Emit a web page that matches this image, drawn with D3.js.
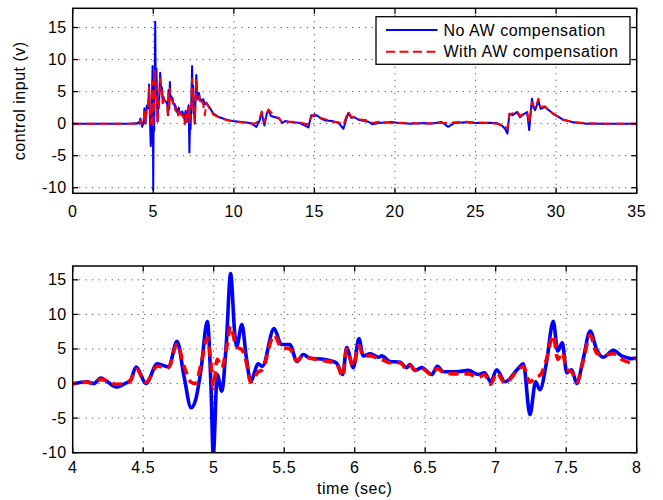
<!DOCTYPE html>
<html>
<head>
<meta charset="utf-8">
<script src="https://cdn.jsdelivr.net/npm/d3@7/dist/d3.min.js"></script>
<style>
  html, body { margin: 0; padding: 0; background: #fff; }
  svg { display: block; }
  text { font-family: "Liberation Sans", Arial, Helvetica, sans-serif; fill: #000; letter-spacing: 0.5px; }
</style>
</head>
<body>
<svg id="chart" width="663" height="500"></svg>
<script>
// ---------------- DATA ----------------
const time = [0, 2, 3.5, 3.9, 4.0, 4.05, 4.1, 4.15, 4.2, 4.24, 4.31, 4.37, 4.41, 4.45, 4.52, 4.6, 4.68, 4.74, 4.79, 4.84, 4.87, 4.91, 4.955, 4.98, 4.997, 5.025, 5.057, 5.09, 5.12, 5.15, 5.163, 5.2, 5.23, 5.262, 5.316, 5.345, 5.428, 5.48, 5.54, 5.59, 5.635, 5.68, 5.78, 5.87, 5.915, 5.943, 5.99, 6.03, 6.06, 6.11, 6.17, 6.19, 6.25, 6.32, 6.37, 6.39, 6.43, 6.475, 6.546, 6.586, 6.63, 6.72, 6.806, 6.877, 6.92, 6.965, 7.007, 7.066, 7.16, 7.196, 7.243, 7.283, 7.314, 7.36, 7.408, 7.44, 7.472, 7.504, 7.539, 7.575, 7.62, 7.67, 7.716, 7.763, 7.834, 7.894, 7.94, 7.965, 8.0, 8.1, 8.2, 8.3, 8.5, 8.73, 9.1, 9.56, 9.9, 10.5, 11.1, 11.4, 11.6, 11.73, 11.85, 11.9, 12.04, 12.14, 12.3, 12.56, 12.8, 13.0, 13.18, 13.6, 14.0, 14.42, 14.63, 14.8, 15.0, 15.15, 15.4, 15.66, 16.1, 16.5, 16.8, 16.95, 17.1, 17.3, 17.5, 17.73, 18.35, 18.6, 19.0, 19.8, 20.2, 21.0, 21.9, 22.2, 22.9, 23.3, 23.7, 24.4, 25.0, 25.7, 26.3, 26.63, 26.83, 26.98, 27.1, 27.3, 27.56, 27.76, 28.0, 28.2, 28.33, 28.5, 28.6, 28.7, 28.9, 29.04, 29.3, 29.83, 30.45, 31.07, 31.9, 33, 35];

const noAW = [0, 0, 0, 0.05, 0, 0.15, 0.25, 0, 0.8, 0.35, -0.5, 0, 0.5, 2.4, 0, 2.85, 2.4, 6.1, 1.0, -3.5, -2.5, 2.0, 9.0, 0, -10.3, 1.3, -1.1, 6, 15.9, 7, 5.4, 8.55, 4, 0.35, 2.85, 2.5, 7.95, 5.65, 5.65, 3.2, 4.2, 3.7, 3.5, 3.0, 1.3, 5.2, 2.3, 6.5, 4.0, 4.3, 3.8, 4.0, 3.2, 3.1, 2.3, 2.75, 1.9, 2.3, 1.3, 2.5, 1.7, 1.7, 1.9, 1.3, 1.55, 0.25, 2.0, 0.25, 2.2, 2.85, -4.5, 0.25, -0.9, 3.0, 9.0, 4.7, 5.9, 1.55, 2.0, 0, 3.5, 7.6, 4.9, 3.8, 4.8, 4.0, 3.7, 3.6, 3.7, 3.8, 3.0, 3.2, 2.5, 1.55, 1.0, 0.6, 0.4, 0.25, 0.05, -0.5, 0.5, 1.8, 0.2, -0.3, 1.55, 2.1, 1.2, 1.0, 0.8, 0.1, 0.4, 0.2, 0.15, -0.3, -0.6, 1.3, 1.2, 1.3, 0.8, 0.5, 0.4, 0.1, -0.8, 0.5, 1.65, 0.9, 1.0, 0.6, 0.3, -0.1, 0.1, 0.25, 0.1, 0.0, 0.1, 0, 0.25, -0.5, 0.1, 0.2, 0.1, 0.15, 0.1, -0.3, -0.8, -1.55, 1.55, 1.3, 1.8, 1.0, 1.5, 1.8, -1.0, 3.9, 2.5, 2.1, 3.6, 2.3, 2.6, 1.55, 0.6, 0.2, 0, 0, 0];

const withAW = [0, 0, 0, 0, 0, 0.1, 0.2, 0.05, 0.6, 0.4, -0.1, -0.05, 0.4, 2.1, 0.2, 2.5, 2.3, 5.7, 2.5, 0.2, 0, 2.8, 6.6, 3.0, -0.6, 3.5, 2.3, 5, 8.3, 6.0, 5.3, 4.9, 3.2, 0.2, 1.7, 2.0, 7.0, 5.2, 5.0, 3.3, 4.0, 3.7, 3.3, 2.9, 1.0, 5.0, 2.5, 5.5, 4.0, 4.0, 3.6, 3.5, 3.0, 3.0, 2.1, 2.6, 1.9, 2.2, 1.3, 2.2, 1.6, 1.4, 1.4, 0.9, 1.3, -0.1, 1.5, 0.1, 2.0, 2.5, 0.2, 1.0, 1.2, 3.5, 7.0, 3.5, 4.5, 2.0, 1.7, 0.2, 3.2, 7.0, 4.4, 4.1, 4.3, 3.5, 3.1, 3.0, 3.5, 3.0, 1.3, 3.3, 2.3, 1.4, 0.9, 0.55, 0.35, 0.2, 0, 0.1, 0.8, 1.9, 1.0, 0.2, 1.5, 2.2, 1.8, 1.1, 0.9, 0.2, 0.3, 0.3, 0.2, 0.0, -0.1, 1.0, 1.5, 1.2, 0.9, 0.7, 0.3, 0.2, -0.2, 0.9, 1.9, 1.0, 1.1, 0.7, 0.5, 0.1, 0.3, 0.1, 0.15, 0.1, 0.0, 0.05, 0.1, 0.1, 0.2, 0.3, 0.2, 0.1, 0.0, -0.2, -0.5, -0.8, 1.5, 1.6, 2.0, 1.2, 1.6, 1.7, 0.2, 3.3, 2.8, 2.4, 3.9, 2.6, 2.7, 1.5, 0.6, 0.25, 0.05, 0, 0];

const seriesNames = ["No AW compensation", "With AW compensation"];
const topXTicks = [0, 5, 10, 15, 20, 25, 30, 35];
const topYTicks = [-10, -5, 0, 5, 10, 15];
const botXTicks = [4, 4.5, 5, 5.5, 6, 6.5, 7, 7.5, 8];
const botYTicks = [-10, -5, 0, 5, 10, 15];
const yLabel = "control input (v)";
const xLabel = "time (sec)";

// ---------------- LAYOUT ----------------
const FS = 16;
const svg = d3.select("#chart");
const L = 72.7, R = 636.7;
const panels = [
  { top: 8.3, bottom: 193.3, xd: [0, 35], yd: [-10.87, 18], xt: topXTicks, yt: topYTicks,
    lw: 2, dash: "9,4.5", curve: d3.curveLinear, labOff: 23.5, fmt: d3.format("d") },
  { top: 266, bottom: 452.7, xd: [4, 8], yd: [-10, 17], xt: botXTicks, yt: botYTicks,
    lw: 3.6, dash: "10,6", curve: d3.curveMonotoneX, labOff: 20.5, fmt: d => String(d) }
];

const pts = time.map((t, i) => ({ t, a: noAW[i], b: withAW[i] }));

panels.forEach((p, idx) => {
  const x = d3.scaleLinear().domain(p.xd).range([L, R]);
  const y = d3.scaleLinear().domain(p.yd).range([p.bottom, p.top]);
  const g = svg.append("g");

  const clipId = "clip" + idx;
  svg.append("clipPath").attr("id", clipId).append("rect")
    .attr("x", L).attr("y", p.top).attr("width", R - L).attr("height", p.bottom - p.top);

  // grid
  const grid = g.append("g").attr("stroke", "#333").attr("stroke-width", 1)
    .attr("stroke-dasharray", "1,5.5");
  p.xt.forEach(v => {
    if (v === p.xd[0] || v === p.xd[1]) return;
    grid.append("line").attr("x1", x(v)).attr("x2", x(v)).attr("y1", p.top).attr("y2", p.bottom);
  });
  p.yt.forEach(v => {
    grid.append("line").attr("x1", L).attr("x2", R).attr("y1", y(v)).attr("y2", y(v));
  });

  // data lines
  const data = pts.filter(d => d.t >= p.xd[0] - 0.5 && d.t <= p.xd[1] + 0.5);
  const lineA = d3.line().x(d => x(d.t)).y(d => y(d.a)).curve(p.curve);
  const lineB = d3.line().x(d => x(d.t)).y(d => y(d.b)).curve(p.curve);
  const lg = g.append("g").attr("clip-path", `url(#${clipId})`);
  lg.append("path").attr("d", lineA(data)).attr("fill", "none")
    .attr("stroke", "#0000ff").attr("stroke-width", p.lw).attr("stroke-linejoin", "round");
  lg.append("path").attr("d", lineB(data)).attr("fill", "none")
    .attr("stroke", "#ff0000").attr("stroke-width", p.lw).attr("stroke-dasharray", p.dash)
    .attr("stroke-linejoin", "round");

  // box
  g.append("rect").attr("x", L).attr("y", p.top).attr("width", R - L).attr("height", p.bottom - p.top)
    .attr("fill", "none").attr("stroke", "#000").attr("stroke-width", 1.5);

  // ticks (inward, all four sides)
  const tk = g.append("g").attr("stroke", "#000").attr("stroke-width", 1.3);
  const tl = 5.5;
  p.xt.forEach(v => {
    tk.append("line").attr("x1", x(v)).attr("x2", x(v)).attr("y1", p.bottom).attr("y2", p.bottom - tl);
    tk.append("line").attr("x1", x(v)).attr("x2", x(v)).attr("y1", p.top).attr("y2", p.top + tl);
  });
  p.yt.forEach(v => {
    tk.append("line").attr("x1", L).attr("x2", L + tl).attr("y1", y(v)).attr("y2", y(v));
    tk.append("line").attr("x1", R).attr("x2", R - tl).attr("y1", y(v)).attr("y2", y(v));
  });

  // tick labels
  p.xt.forEach(v => {
    g.append("text").attr("x", x(v)).attr("y", p.bottom + p.labOff)
      .attr("text-anchor", "middle").attr("font-size", FS).text(p.fmt(v));
  });
  p.yt.forEach(v => {
    g.append("text").attr("x", L - 6).attr("y", y(v) + 5.5)
      .attr("text-anchor", "end").attr("font-size", FS).text(String(v));
  });

  if (idx === 0) {
    // y label
    const cy = (p.top + p.bottom) / 2;
    g.append("text").attr("transform", `translate(25,${cy}) rotate(-90)`)
      .attr("text-anchor", "middle").attr("font-size", FS).text(yLabel);

    // legend
    const lx = 376, ly = 16.7, lwid = 254, lh = 47.6;
    const leg = g.append("g");
    leg.append("rect").attr("x", lx).attr("y", ly).attr("width", lwid).attr("height", lh)
      .attr("fill", "#fff").attr("stroke", "#000").attr("stroke-width", 1.3);
    const rows = [30, 51.7];
    const cols = ["#0000ff", "#ff0000"];
    rows.forEach((ry, i) => {
      leg.append("line").attr("x1", 386).attr("x2", 437.5).attr("y1", ry).attr("y2", ry)
        .attr("stroke", cols[i]).attr("stroke-width", 2)
        .attr("stroke-dasharray", i === 1 ? "9,4.5" : null);
      leg.append("text").attr("x", 443.5).attr("y", ry + 5.5).attr("font-size", FS).text(seriesNames[i]);
    });
  } else {
    g.append("text").attr("x", (L + R) / 2).attr("y", 494)
      .attr("text-anchor", "middle").attr("font-size", FS).text(xLabel);
  }
});
</script>
</body>
</html>
